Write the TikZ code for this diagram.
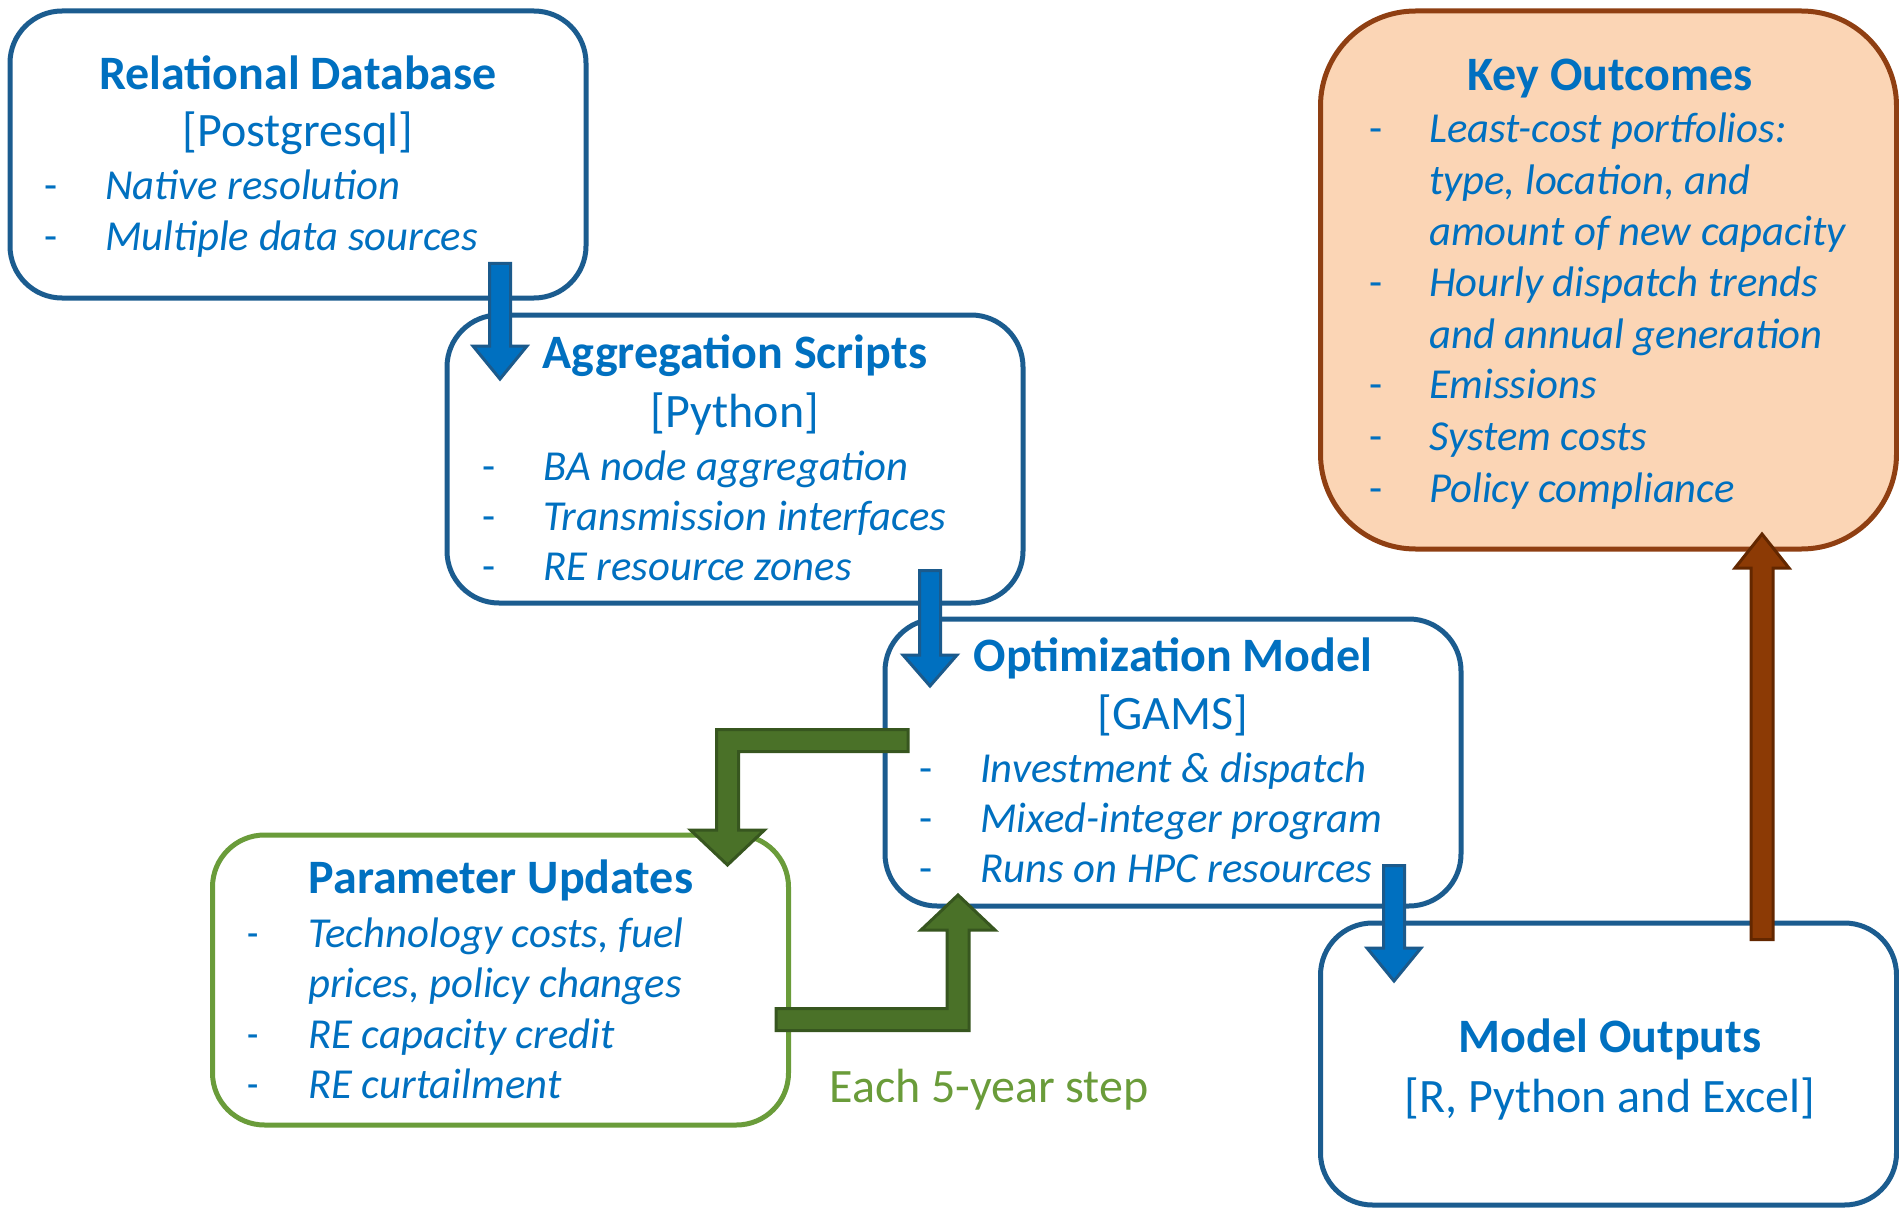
\documentclass[tikz,border=0pt]{standalone}
\usepackage{fontspec}
\setmainfont{Carlito}
\newfontfamily\condfont[FakeStretch=0.86]{Carlito}
\usetikzlibrary{calc}

\definecolor{txtblue}{HTML}{0070C0}
\definecolor{boxblue}{HTML}{1B5C8F}
\definecolor{arrowblue}{HTML}{0070C0}
\definecolor{arrowblueedge}{HTML}{1B5A8C}
\definecolor{pgreen}{HTML}{6A9C3A}
\definecolor{agreen}{HTML}{4A7128}
\definecolor{agreenedge}{HTML}{37561F}
\definecolor{kofill}{HTML}{FBD5B5}
\definecolor{koedge}{HTML}{8F3F12}
\definecolor{abrown}{HTML}{8C3A05}
\definecolor{abrownedge}{HTML}{632700}

\tikzset{
  box/.style={draw=boxblue, line width=5pt, rounded corners=52pt, fill=white,
    inner sep=0pt, minimum width=576pt},
  greenbox/.style={box, draw=pgreen},
  outbox/.style={box, draw=koedge, fill=kofill, rounded corners=95pt},
  ttl/.style={anchor=base, inner sep=0pt, text=txtblue,
    font=\fontsize{48}{57}\selectfont\bfseries},
  sub/.style={anchor=base, inner sep=0pt, text=txtblue,
    font=\fontsize{48}{57}\selectfont},
  item/.style={anchor=base west, inner sep=0pt, text=txtblue,
    font=\fontsize{42.7}{51}\selectfont\itshape},
  hyph/.style={anchor=base west, inner sep=0pt, text=txtblue,
    font=\fontsize{42.7}{51}\selectfont},
  blueblock/.style={fill=arrowblue, draw=arrowblueedge, line width=3pt},
  greenblock/.style={fill=agreen, draw=agreenedge, line width=3pt},
  brownblock/.style={fill=abrown, draw=abrownedge, line width=3pt},
}

% one bullet line: name, hyphen x, text x, baseline y, text
\newcommand\itemline[5]{%
  \node[hyph] (#1d) at (#2,#4) {-};
  \node[item] (#1) at (#3,#4) {#5};}
% a continuation line of a bullet
\newcommand\contline[4]{%
  \node[item] (#1) at (#2,#3) {#4};}

% vertical block arrows: style, start, tip, shaft half width, head half width, head length
\newcommand\downblock[6]{%
  \draw[#1] ($(#2)+(-#4,0)$) -- ($(#2)+(#4,0)$) -- ($(#3)+(#4,-#6)$) -- ($(#3)+(#5,-#6)$)
    -- (#3) -- ($(#3)+(-#5,-#6)$) -- ($(#3)+(-#4,-#6)$) -- cycle;}
\newcommand\upblock[6]{%
  \draw[#1] ($(#2)+(-#4,0)$) -- ($(#2)+(#4,0)$) -- ($(#3)+(#4,#6)$) -- ($(#3)+(#5,#6)$)
    -- (#3) -- ($(#3)+(-#5,#6)$) -- ($(#3)+(-#4,#6)$) -- cycle;}

\begin{document}
\begin{tikzpicture}[x=1pt, y=-1pt, line join=miter]
\useasboundingbox (0,0) rectangle (1899,1209);

% ---------- boxes ----------
\node[box, minimum height=287pt] (rd) at (298,154.5) {};
\node[box, minimum height=288pt] (as) at (735,459) {};
\node[box, minimum height=287pt] (om) at (1173,762.5) {};
\node[greenbox, minimum height=290pt] (pu) at (500.5,980) {};
\node[outbox, minimum height=538pt] (ko) at (1608.5,280) {};
\node[box, minimum height=282pt] (mo) at (1608.5,1064) {};

% ---------- Relational Database ----------
\node[ttl] (rdt) at (298,90) {Relational Database};
\node[sub] (rds) at (298,147) {[Postgresql]};
\itemline{rd1}{44}{105}{200}{Native resolution}
\itemline{rd2}{44}{105}{251}{Multiple data sources}

% ---------- Aggregation Scripts ----------
\node[ttl] (ast) at (735,368) {Aggregation Scripts};
\node[sub] (ass) at (735,427) {[Python]};
\itemline{as1}{482}{543}{480}{BA node aggregation}
\itemline{as2}{482}{543}{530}{Transmission interfaces}
\itemline{as3}{482}{543}{580}{RE resource zones}

% ---------- Optimization Model ----------
\node[ttl] (omt) at (1173,671) {Optimization Model};
\node[sub] (oms) at (1173,729) {[GAMS]};
\itemline{om1}{919}{980}{782}{Investment \& dispatch}
\itemline{om2}{919}{980}{832}{Mixed-integer program}
\itemline{om3}{919}{980}{882}{Runs on HPC resources}

% ---------- Parameter Updates ----------
\node[ttl] (put) at (501,893) {Parameter Updates};
\begin{scope}[every node/.append style={font=\condfont\fontsize{42.7}{51}\selectfont\itshape}]
\node[hyph, font=\condfont\fontsize{42.7}{51}\selectfont] (pu1d) at (247,947) {-};
\node[item] (pu1) at (308,947) {Technology costs, fuel};
\node[item] (pu1b) at (308,997) {prices, policy changes};
\node[hyph, font=\condfont\fontsize{42.7}{51}\selectfont] (pu2d) at (247,1048) {-};
\node[item] (pu2) at (308,1048) {RE capacity credit};
\node[hyph, font=\condfont\fontsize{42.7}{51}\selectfont] (pu3d) at (247,1098) {-};
\node[item] (pu3) at (308,1098) {RE curtailment};
\end{scope}

\node[anchor=base, inner sep=0pt, text=pgreen, font=\fontsize{48}{57}\selectfont]
  (step) at (989,1102) {Each 5-year step};

% ---------- Key Outcomes ----------
\node[ttl] (kot) at (1610,91) {Key Outcomes};
\itemline{ko1}{1369}{1429}{143}{Least-cost portfolios:}
\contline{ko1b}{1429}{195}{type, location, and}
\contline{ko1c}{1429}{246}{amount of new capacity}
\itemline{ko2}{1369}{1429}{296}{Hourly dispatch trends}
\contline{ko2b}{1429}{348}{and annual generation}
\itemline{ko3}{1369}{1429}{398}{Emissions}
\itemline{ko4}{1369}{1429}{450}{System costs}
\itemline{ko5}{1369}{1429}{502}{Policy compliance}

% ---------- Model Outputs ----------
\node[ttl] (mot) at (1610,1052) {Model Outputs};
\node[sub] (mos) at (1610,1112) {[R, Python and Excel]};

% ---------- flow arrows ----------
\coordinate (a1s) at (500,263.5);  \coordinate (a1t) at (500,379);
\coordinate (a2s) at (930,570.5);  \coordinate (a2t) at (930,686);
\coordinate (a3s) at (1394,865.5); \coordinate (a3t) at (1394,981);
\coordinate (a4s) at (1762,939.5); \coordinate (a4t) at (1762,534);
\downblock{blueblock}{a1s}{a1t}{10.5}{27}{33}
\downblock{blueblock}{a2s}{a2t}{10.5}{27}{31}
\downblock{blueblock}{a3s}{a3t}{10.5}{27}{33}
\upblock{brownblock}{a4s}{a4t}{11}{27}{34}

% feedback loop between the model and the parameter updates
\coordinate (g1s) at (908,740.5);  \coordinate (g1t) at (727.5,865);
\coordinate (g2s) at (776,1019.5); \coordinate (g2t) at (958,895);
\draw[greenblock] ($(g1s)+(0,-11)$) -| ($(g1t)+(-11,-35)$) -- ($(g1t)+(-37,-35)$)
  -- (g1t) -- ($(g1t)+(37,-35)$) -- ($(g1t)+(11,-35)$) |- ($(g1s)+(0,11)$) -- cycle;
\draw[greenblock] ($(g2s)+(0,-11)$) -| ($(g2t)+(-11,35)$) -- ($(g2t)+(-37,35)$)
  -- (g2t) -- ($(g2t)+(37,35)$) -- ($(g2t)+(11,35)$) |- ($(g2s)+(0,11)$) -- cycle;
\end{tikzpicture}
\end{document}
